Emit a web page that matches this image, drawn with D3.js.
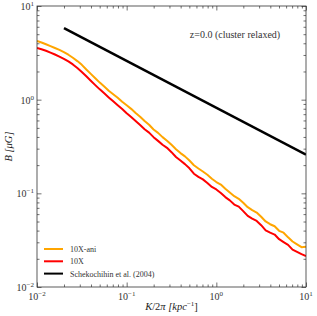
<!DOCTYPE html>
<html>
<head>
<meta charset="utf-8">
<script src="https://cdn.jsdelivr.net/npm/d3@7"></script>
<style>
  body { margin: 0; background: #fff; }
  svg { font-family: "Liberation Serif", "DejaVu Serif", serif; }
</style>
</head>
<body>
<div id="chart"></div>
<script>
// wavenumber K/2pi [kpc^-1]
var kVals = [
    0.01, 0.01122, 0.01259, 0.01413, 0.01585, 0.01778, 0.01995, 0.02239, 0.02512, 0.02818,
    0.03162, 0.03548, 0.03981, 0.04467, 0.05012, 0.05623, 0.0631, 0.07079, 0.07943, 0.08913,
    0.1, 0.1122, 0.1259, 0.1413, 0.1585, 0.1778, 0.1995, 0.2239, 0.2512, 0.2818,
    0.3162, 0.3548, 0.3981, 0.4467, 0.5012, 0.5623, 0.631, 0.7079, 0.7943, 0.8913,
    1, 1.122, 1.259, 1.413, 1.585, 1.778, 1.995, 2.239, 2.512, 2.818,
    3.162, 3.548, 3.981, 4.467, 5.012, 5.623, 6.31, 7.079, 7.943, 8.913, 10];

// B [muG], 10X-ani
var aniVals = [
    4.227, 4.074, 3.908, 3.733, 3.565, 3.404, 3.221, 3.020, 2.805, 2.582,
    2.355, 2.099, 1.884, 1.690, 1.521, 1.380, 1.245, 1.143, 1.047, 0.951,
    0.871, 0.798, 0.721, 0.658, 0.592, 0.540, 0.481, 0.442, 0.398, 0.365,
    0.330, 0.296, 0.269, 0.248, 0.224, 0.1995, 0.184, 0.171, 0.158, 0.143,
    0.132, 0.124, 0.112, 0.102, 0.0933, 0.0875, 0.0794, 0.0711, 0.0661, 0.0624,
    0.0562, 0.0501, 0.0468, 0.0445, 0.0398, 0.0380, 0.0339, 0.0306, 0.0285, 0.0266, 0.0269];

// B [muG], 10X
var tenxVals = [
    3.565, 3.451, 3.327, 3.177, 3.034, 2.884, 2.729, 2.559, 2.377, 2.178,
    1.977, 1.778, 1.592, 1.429, 1.288, 1.169, 1.057, 0.959, 0.871, 0.794,
    0.716, 0.653, 0.592, 0.537, 0.484, 0.445, 0.398, 0.363, 0.330, 0.306,
    0.275, 0.244, 0.224, 0.205, 0.185, 0.162, 0.150, 0.141, 0.129, 0.117,
    0.110, 0.101, 0.0912, 0.0841, 0.0759, 0.0721, 0.0646, 0.0575, 0.0537, 0.0507,
    0.0457, 0.0403, 0.0380, 0.0363, 0.0324, 0.0302, 0.0282, 0.0251, 0.0237, 0.0224, 0.0214];

// Schekochihin et al. (2004) K^-1/2 reference line
var schekK = [0.02, 10];
var schekB = [5.8, 0.259];

var xTicks = [0.01, 0.1, 1, 10];
var yTicks = [0.01, 0.1, 1, 10];
var tickExp = ["\u22122", "\u22121", "0", "1"];

var seriesNames = ["10X-ani", "10X", "Schekochihin et al. (2004)"];
var colors = ["#ffa500", "#ff0000", "#000000"];

var width = 317,
    height = 316;
var margin = { top: 6, right: 11, bottom: 29, left: 37 };

var svg = d3.select("#chart").append("svg")
    .attr("width", width)
    .attr("height", height);

var x = d3.scaleLog()
    .domain([0.01, 10])
    .range([margin.left, width - margin.right]);

var y = d3.scaleLog()
    .domain([0.01, 10])
    .range([height - margin.bottom, margin.top]);

// minor tick values
var minors = [];
[0.01, 0.1, 1].forEach(function (d) {
    for (var m = 2; m < 10; m++) minors.push(d * m);
});

var g = svg.append("g");

function tickSet(axisFn, scale, pos, size, vals) {
    return g.append("g")
        .attr("transform", pos)
        .call(axisFn(scale).tickValues(vals).tickSize(size).tickFormat(""))
        .call(function (s) { s.select(".domain").remove(); })
        .call(function (s) { s.selectAll("line").attr("stroke", "#333").attr("stroke-width", 0.7); });
}

var x0 = margin.left, x1 = width - margin.right;
var y0 = height - margin.bottom, y1 = margin.top;

// ticks pointing inwards on all sides
tickSet(d3.axisTop, x, "translate(0," + y0 + ")", 4.5, xTicks);
tickSet(d3.axisTop, x, "translate(0," + y0 + ")", 2.5, minors);
tickSet(d3.axisBottom, x, "translate(0," + y1 + ")", 4.5, xTicks);
tickSet(d3.axisBottom, x, "translate(0," + y1 + ")", 2.5, minors);
tickSet(d3.axisRight, y, "translate(" + x0 + ",0)", 4.5, yTicks);
tickSet(d3.axisRight, y, "translate(" + x0 + ",0)", 2.5, minors);
tickSet(d3.axisLeft, y, "translate(" + x1 + ",0)", 4.5, yTicks);
tickSet(d3.axisLeft, y, "translate(" + x1 + ",0)", 2.5, minors);

// lines
var line = d3.line()
    .x(function (d) { return x(d[0]); })
    .y(function (d) { return y(d[1]); });

svg.append("clipPath").attr("id", "clip")
    .append("rect")
    .attr("x", x0).attr("y", y1)
    .attr("width", x1 - x0).attr("height", y0 - y1);

var lines = svg.append("g").attr("clip-path", "url(#clip)");

lines.append("path")
    .datum(d3.zip(schekK, schekB))
    .attr("fill", "none")
    .attr("stroke", colors[2])
    .attr("stroke-width", 2.5)
    .attr("d", line);

lines.append("path")
    .datum(d3.zip(kVals, aniVals))
    .attr("fill", "none")
    .attr("stroke", colors[0])
    .attr("stroke-width", 2)
    .attr("stroke-linejoin", "round")
    .attr("d", line);

lines.append("path")
    .datum(d3.zip(kVals, tenxVals))
    .attr("fill", "none")
    .attr("stroke", colors[1])
    .attr("stroke-width", 2)
    .attr("stroke-linejoin", "round")
    .attr("d", line);

// frame
svg.append("rect")
    .attr("x", x0).attr("y", y1)
    .attr("width", x1 - x0).attr("height", y0 - y1)
    .attr("fill", "none")
    .attr("stroke", "#333")
    .attr("stroke-width", 0.8);

// tick labels
xTicks.forEach(function (d, i) {
    var t = svg.append("text")
        .attr("x", x(d))
        .attr("y", y0 + 13)
        .attr("text-anchor", "middle")
        .attr("font-size", 10)
        .attr("fill", "#333");
    t.append("tspan").text("10");
    t.append("tspan").attr("dy", -4).attr("font-size", 7).text(tickExp[i]);
});

yTicks.forEach(function (d, i) {
    var t = svg.append("text")
        .attr("x", x0 - 3)
        .attr("y", y(d) + 4)
        .attr("text-anchor", "end")
        .attr("font-size", 10)
        .attr("fill", "#333");
    t.append("tspan").text("10");
    t.append("tspan").attr("dy", -4).attr("font-size", 7).text(tickExp[i]);
});

// axis labels
var xl = svg.append("text")
    .attr("x", (x0 + x1) / 2)
    .attr("y", height - 6)
    .attr("text-anchor", "middle")
    .attr("font-size", 10.5)
    .attr("fill", "#222");
xl.append("tspan").attr("font-style", "italic").text("K");
xl.append("tspan").text("/2");
xl.append("tspan").attr("font-style", "italic").text("\u03c0  [kpc");
xl.append("tspan").attr("dy", -4).attr("font-size", 7).text("\u22121");
xl.append("tspan").attr("dy", 4).text("]");

svg.append("text")
    .attr("transform", "translate(12," + (y0 + y1) / 2 + ") rotate(-90)")
    .attr("text-anchor", "middle")
    .attr("font-size", 10.5)
    .attr("fill", "#222")
    .attr("font-style", "italic")
    .text("B  [\u03bcG]");

// annotation
svg.append("text")
    .attr("x", 235)
    .attr("y", 38)
    .attr("text-anchor", "middle")
    .attr("font-size", 10)
    .attr("fill", "#333")
    .text("z=0.0 (cluster relaxed)");

// legend
seriesNames.forEach(function (name, i) {
    var ly = 249 + i * 12.3;
    svg.append("line")
        .attr("x1", 44).attr("x2", 63)
        .attr("y1", ly).attr("y2", ly)
        .attr("stroke", colors[i])
        .attr("stroke-width", 2);
    svg.append("text")
        .attr("x", 70)
        .attr("y", ly + 3)
        .attr("font-size", 8)
        .attr("fill", "#333")
        .text(name);
});
</script>
</body>
</html>
